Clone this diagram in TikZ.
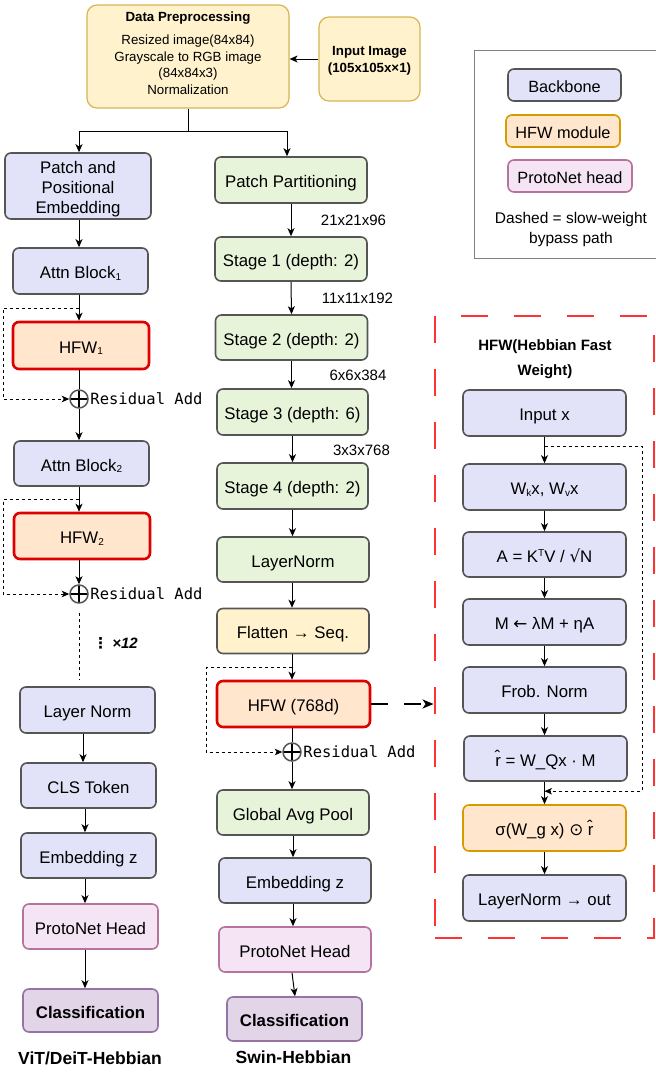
\documentclass[tikz,border=0pt]{standalone}
\usepackage{fontspec}
\setmainfont{Liberation Sans}
\newfontfamily\djv{DejaVu Sans}[ItalicFont={DejaVu Sans Oblique},BoldFont={DejaVu Sans Bold},BoldItalicFont={DejaVu Sans Bold Oblique}]
\newfontfamily\monof{DejaVu Sans Mono}
\usetikzlibrary{arrows.meta,calc}
\definecolor{bbfill}{HTML}{E2E3F8}
\definecolor{bbline}{HTML}{555555}
\definecolor{grfill}{HTML}{E7F4DA}
\definecolor{ylfill}{HTML}{FFF2CC}
\definecolor{ylline}{HTML}{D6B656}
\definecolor{hffill}{HTML}{FFE6CC}
\definecolor{hfred}{HTML}{DD0000}
\definecolor{orline}{HTML}{D79B00}
\definecolor{prfill}{HTML}{F4E4F4}
\definecolor{prline}{HTML}{B5739D}
\definecolor{clfill}{HTML}{E1D5E7}
\definecolor{clline}{HTML}{9673A6}
\definecolor{boxred}{HTML}{FF3333}
\tikzset{
  wh/.style 2 args={minimum width=#1, minimum height=#2},
  base/.style={rounded corners=6pt, line width=1.6pt, inner sep=0pt, align=center,
    font=\fontsize{16.8}{20}\selectfont},
  sl/.style={text height=16.2pt, text depth=1pt},
  bbx/.style={base, draw=bbline, fill=bbfill},
  bb/.style={bbx, sl},
  gr/.style={base, sl, draw=bbline, fill=grfill},
  yl/.style={base, draw=ylline, fill=ylfill, line width=1.2pt, rounded corners=10pt},
  fl/.style={base, sl, draw=bbline, fill=ylfill},
  hfw/.style={base, sl, draw=hfred, fill=hffill, line width=2.6pt},
  orb/.style={base, sl, draw=orline, fill=hffill},
  pr/.style={base, sl, draw=prline, fill=prfill},
  cl/.style={base, sl, draw=clline, fill=clfill, font=\fontsize{16.8}{19}\selectfont\bfseries},
  txt/.style={align=center, inner sep=0pt},
  arr/.style={line width=1pt, -{Stealth[length=8pt,width=7pt,inset=2.2pt]}},
  plain/.style={line width=1pt},
  byp/.style={line width=0.9pt, dash pattern=on 3pt off 3pt, -{Stealth[length=7.5pt,width=6.5pt,inset=2pt]}},
  addc/.style={circle, draw=bbline, line width=1.5pt, minimum size=18pt, inner sep=0pt, fill=white,
    path picture={\draw[black,line width=1.2pt] (path picture bounding box.north) -- (path picture bounding box.south)
      (path picture bounding box.west) -- (path picture bounding box.east);}},
  reslab/.style={anchor=west, inner sep=1.5pt, font=\monof\fontsize{15.5}{16}\selectfont},
  dimlab/.style={font=\fontsize{15}{17}\selectfont, inner sep=0pt},
}
\newcommand{\sbs}[1]{\raisebox{-1.5pt}{\fontsize{10}{10}\selectfont #1}}
\newcommand{\sps}[1]{\raisebox{5.5pt}{\fontsize{10}{10}\selectfont #1}}
\begin{document}
\begin{tikzpicture}[x=1pt,y=-1pt]
\useasboundingbox[fill=white] (0,0) rectangle (656,1072);

% ---------- top ----------
\node[yl, wh={202}{103}] (pre) at (188,56.5) {};
\node[txt, font=\fontsize{13.3}{16.4}\selectfont] (pretext) at (188,53)
  {\textbf{Data Preprocessing}\\[7pt]Resized image(84x84)\\Grayscale to RGB image\\(84x84x3)\\Normalization};
\node[yl, wh={101}{84}] (inp) at (369.5,59) {};
\node[txt, font=\fontsize{13.3}{17}\selectfont\bfseries] (inptext) at (369.5,61) {Input Image\\(105x105x×1)};
\draw[arr] (inp.west) -- (inp.west -| pre.east);

% ---------- left column (ViT/DeiT) ----------
\node[bbx, wh={146}{66}] (ppe) at (78,186) {};
\node[txt, font=\fontsize{16.8}{20}\selectfont] (ppetext) at (78,189) {Patch and\\Positional\\Embedding};
\node[bb, wh={135}{46}] (ab1) at (80.5,271) {Attn Block\sbs{1}};
\node[hfw, wh={136}{47}] (hfw1) at (81,345.5) {HFW\sbs{1}};
\node[addc] (add1) at (79,399) {};
\node[reslab] (res1) at (add1.east) {Residual Add};
\node[bb, wh={135}{45}] (ab2) at (81.5,463.5) {Attn Block\sbs{2}};
\node[hfw, wh={136}{46}] (hfw2) at (82,536) {HFW\sbs{2}};
\node[addc] (add2) at (79,594) {};
\node[reslab] (res2) at (add2.east) {Residual Add};
\node[anchor=west, inner sep=0pt, font=\fontsize{15}{17}\selectfont\bfseries\itshape] (rep) at (93,643) {{\djv ⋮} ×12};
\coordinate (dots) at (79,680);
\node[bb, wh={135}{46}] (ln) at (87.5,710) {Layer Norm};
\node[bb, wh={135}{45}] (cls) at (88.5,785.5) {CLS Token};
\node[bb, wh={135}{45}] (embL) at (88.5,855.5) {Embedding z};
\node[pr, wh={135}{45}] (protoL) at (90.5,926.5) {ProtoNet Head};
\node[cl, wh={135}{43}] (clsfL) at (90.5,1010.5) {Classification};
\node[font=\fontsize{17.5}{19}\selectfont\bfseries] (capL) at (90,1058) {ViT/DeiT-Hebbian};

% ---------- middle column (Swin) ----------
\node[gr, wh={152}{46}] (pp) at (291,180) {Patch Partitioning};
\node[gr, wh={152}{44}] (s1) at (291,259) {Stage 1 (depth: 2)};
\node[gr, wh={152}{45}] (s2) at (291.5,337.5) {Stage 2 (depth: 2)};
\node[gr, wh={151}{46}] (s3) at (292.5,412) {Stage 3 (depth: 6)};
\node[gr, wh={151}{46}] (s4) at (292.5,486) {Stage 4 (depth: 2)};
\node[gr, wh={152}{45}] (lnS) at (293,559.5) {LayerNorm};
\node[fl, wh={152}{45}] (flat) at (293,631) {Flatten → Seq.};
\node[hfw, wh={153}{46}] (hfwS) at (293.5,704) {HFW (768d)};
\node[addc] (add3) at (292,752) {};
\node[reslab] (res3) at (add3.east) {Residual Add};
\node[gr, wh={152}{45}] (gap) at (293,812.5) {Global Avg Pool};
\node[bb, wh={152}{45}] (embS) at (295,880.5) {Embedding z};
\node[pr, wh={152}{45}] (protoS) at (295,949.5) {ProtoNet Head};
\node[cl, wh={135}{44}] (clsfS) at (294.5,1019) {Classification};
\node[font=\fontsize{17.5}{19}\selectfont\bfseries] (capS) at (293.5,1057) {Swin-Hebbian};

\node[dimlab] (d1) at (353.5,220) {21x21x96};
\node[dimlab] (d2) at (357.5,298) {11x11x192};
\node[dimlab] (d3) at (358,375) {6x6x384};
\node[dimlab] (d4) at (361.5,450) {3x3x768};

% ---------- HFW detail box ----------
\node[draw=boxred, line width=2.8pt, dash pattern=on 27pt off 26pt, minimum width=219, minimum height=622, inner sep=0pt] (hfwbox) at (544.5,627) {};
\node[txt, font=\fontsize{15}{25}\selectfont\bfseries] (hfwtitle) at (545,359) {HFW(Hebbian Fast\\Weight)};
\node[bb, wh={163}{46}] (rin) at (544.5,413) {Input x};
\node[bb, wh={163}{46}] (rw) at (544.5,487) {W\sbs{k}x, W\sbs{v}x};
\node[bb, wh={163}{45}] (ra) at (544.5,554.5) {A = K\sps{T}V / {\djv √}N};
\node[bb, wh={163}{46}] (rm) at (544.5,622) {M {\djv ←} λM + ηA};
\node[bb, wh={163}{46}] (rf) at (544.5,690) {Frob. Norm};
\node[bb, wh={163}{45}] (rr) at (545.5,758.5) {r̂ = W\_Qx · M};
\node[orb, wh={163}{46}] (rs) at (544.5,828) {σ(W\_g x) {\djv ⊙} r̂};
\node[bb, wh={163}{46}] (rl) at (544.5,898) {LayerNorm → out};

% ---------- legend ----------
\node[draw=gray, line width=1pt, minimum width=183, minimum height=208, inner sep=0pt] (lgd) at (565.5,154) {};
\node[bb, wh={113}{32}, font=\fontsize{16.3}{19}\selectfont] (lb) at (564.5,85) {Backbone};
\node[orb, wh={114}{32}, font=\fontsize{16.3}{19}\selectfont] (lh) at (563,131) {HFW module};
\node[pr, wh={124}{32}, font=\fontsize{16.3}{19}\selectfont] (lp) at (570,176) {ProtoNet head};
\node[txt, font=\fontsize{15.5}{20}\selectfont] (lt) at (571,229) {Dashed = slow-weight\\bypass path};

% ---------- connectors: top split ----------
\draw[plain] (pre.south) -- ++(0,23) coordinate (split);
\draw[arr] (split) -| ($(ppe.north)+(1,0)$);
\draw[arr] (split) -| ($(pp.north)+(-4,0)$);

% ---------- connectors: left ----------
\draw[arr] (ppe.south -| add1) -- (ab1.north -| add1);
\draw[arr] (ab1.south -| add1) -- (hfw1.north -| add1);
\draw[plain] (hfw1.south -| add1) -- (add1.north);
\draw[arr] (add1.south) -- (ab2.north -| add1);
\draw[arr] (ab2.south -| add2) -- (hfw2.north -| add2);
\draw[arr] (hfw2.south -| add2) -- (add2.north);
\draw[line width=0.9pt, dash pattern=on 3pt off 3pt] ($(add2.south)+(0,9)$) -- (dots);
\coordinate (b1) at ($(ab1.south -| add1)!0.52!(hfw1.north -| add1)$);
\draw[byp] (b1) -- ++(-76,0) |- (add1.west);
\coordinate (b2) at ($(ab2.south -| add2)!0.52!(hfw2.north -| add2)$);
\draw[byp] (b2) -- ++(-76,0) |- (add2.west);
\draw[arr] ($(ln.south)+(-4.5,0)$) -- ($(cls.north)+(-5.5,0)$);
\draw[arr] ($(cls.south)+(-3.5,0)$) -- ($(embL.north)+(-3.5,0)$);
\draw[arr] ($(embL.south)+(-3.5,0)$) -- ($(protoL.north)+(-5.5,0)$);
\draw[arr] ($(protoL.south)+(-5.5,0)$) -- ($(clsfL.north)+(-5.5,0)$);

% ---------- connectors: middle ----------
\draw[arr] (pp.south) -- (s1.north);
\draw[arr] (s1.south) -- (s2.north);
\draw[arr] (s2.south) -- (s3.north -| s2.south);
\draw[arr] (s3.south) -- (s4.north);
\draw[arr] (s4.south) -- (lnS.north -| s4.south);
\draw[arr] ($(lnS.south)+(-1,0)$) -- ($(flat.north)+(-1,0)$);
\draw[arr] (flat.south -| add3) -- (hfwS.north -| add3);
\draw[plain] (hfwS.south -| add3) -- (add3.north);
\draw[arr] (add3.south) -- (gap.north -| add3);
\draw[arr] (gap.south) -- (embS.north -| gap.south);
\draw[arr] ($(embS.south)+(-2,0)$) -- ($(protoS.north)+(-2,0)$);
\draw[arr] ($(protoS.south)+(-3,0)$) -- (clsfS.north -| protoS.south);
\coordinate (b3) at ($(flat.south -| add3)!0.52!(hfwS.north -| add3)$);
\draw[byp] (b3) -- ++(-86,0) |- (add3.west);
\draw[line width=2pt, dash pattern=on 17pt off 16pt, -{Stealth[length=11pt,width=9pt,inset=3pt]}] (hfwS.east) -- (hfwS.east -| hfwbox.west);

% ---------- connectors: right ----------
\draw[arr] (rin.south) -- (rw.north);
\draw[arr] (rw.south) -- (ra.north);
\draw[arr] (ra.south) -- (rm.north);
\draw[arr] (rm.south) -- (rf.north);
\draw[arr] (rf.south) -- (rr.north -| rf.south);
\draw[arr] (rr.south -| rs.north) -- (rs.north);
\draw[arr] (rs.south) -- (rl.north);
\coordinate (rb) at ($(rin.south)!0.36!(rw.north)$);
\coordinate (re) at ($(rr.south -| rs.north)!0.42!(rs.north)$);
\draw[byp] (rb) -- ++(97.5,0) |- (re);
\end{tikzpicture}
\end{document}
